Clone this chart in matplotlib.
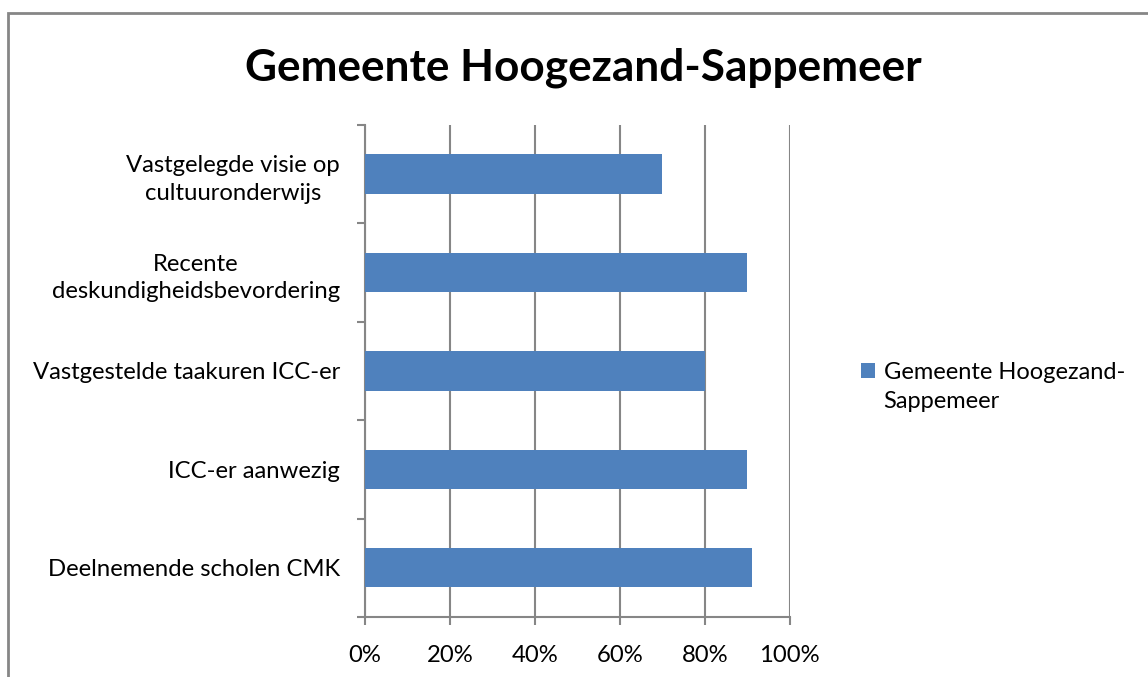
import matplotlib
matplotlib.use("Agg")
import matplotlib.pyplot as plt
from matplotlib.patches import Rectangle
from matplotlib.ticker import PercentFormatter

categories = [
    "Deelnemende scholen CMK",
    "ICC-er aanwezig",
    "Vastgestelde taakuren ICC-er",
    "Recente\ndeskundigheidsbevordering",
    "Vastgelegde visie op\ncultuuronderwijs",
]
values = [0.91, 0.90, 0.80, 0.90, 0.70]
series_name = ["Gemeente Hoogezand-", "Sappemeer"]
title = "Gemeente Hoogezand-Sappemeer"

plt.rcParams['font.family'] = ['Lato', 'DejaVu Sans']

bar_color = '#4f81bd'
grid_color = '#868686'

fig = plt.figure(figsize=(11.48, 6.77), dpi=100)
ax = fig.add_axes([0.318, 0.0886, 0.370, 0.7268])

# outer chart border (runs off right and bottom edge)
fig.patches.append(Rectangle((8 / 1148, -0.05), 1.2, 1 - 13 / 677 + 0.05,
                             transform=fig.transFigure, fill=False,
                             edgecolor='#868686', linewidth=2))

y = range(len(categories))
ax.barh(y, values, height=0.4, color=bar_color, label=series_name[0], zorder=3)

ax.set_xlim(0, 1)
ax.set_ylim(-0.5, len(categories) - 0.5)
ax.xaxis.set_major_formatter(PercentFormatter(1.0, decimals=0))
ax.set_xticks([0, 0.2, 0.4, 0.6, 0.8, 1.0])
ax.grid(True, axis='x', color=grid_color, linewidth=1.5, zorder=0)

ax.set_yticks([i - 0.5 for i in range(len(categories) + 1)], minor=False)
ax.set_yticklabels([])
ax.set_yticks(list(y), minor=True)
ax.set_yticklabels(categories, minor=True, fontsize=17.2, multialignment='center',
                   linespacing=1.4)
ax.tick_params(axis='y', which='minor', length=0, pad=18)
ax.tick_params(axis='y', which='major', length=6, width=1.5, color=grid_color)
ax.tick_params(axis='x', length=6, width=1.5, color=grid_color, labelsize=17.2, pad=14)

for side in ['top', 'right']:
    ax.spines[side].set_visible(False)
for side in ['left', 'bottom']:
    ax.spines[side].set_color(grid_color)
    ax.spines[side].set_linewidth(1.5)

fig.text(0.508, 0.90, title, ha='center', va='center', fontsize=31.8, fontweight='bold')

leg = fig.legend(loc='upper left', bbox_to_anchor=(0.742, 0.479), frameon=False,
                 fontsize=17, handlelength=0.6, handleheight=0.6, handletextpad=0.35,
                 borderaxespad=0)

# second line of the wrapped legend label, below the first
fig.canvas.draw()
bb = leg.get_texts()[0].get_window_extent().transformed(fig.transFigure.inverted())
fig.text(bb.x0, bb.y0 - 0.012, series_name[1], ha='left', va='top', fontsize=17)

fig.savefig("out.png", dpi=100)
